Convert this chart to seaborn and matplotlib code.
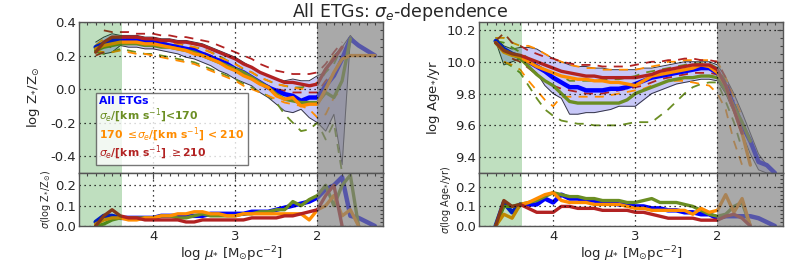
import numpy as np
import matplotlib
matplotlib.use("Agg")
import matplotlib.pyplot as plt
import seaborn as sns
from matplotlib.ticker import MultipleLocator

nan = np.nan

# radial grid in log mu_* [Msun pc^-2]
lmu = [4.7, 4.6, 4.5, 4.4, 4.3, 4.2, 4.1, 4.0, 3.9, 3.8, 3.7, 3.6, 3.5, 3.4, 3.3, 3.2, 3.1, 3.0,
       2.9, 2.8, 2.7, 2.6, 2.5, 2.4, 2.3, 2.2, 2.1, 2.0, 1.9, 1.8, 1.7, 1.6, 1.5, 1.4, 1.3]

# ---- metallicity profiles ----
z_all = [0.25, 0.27, 0.29, 0.29, 0.29, 0.29, 0.28, 0.28, 0.27, 0.26, 0.25, 0.24, 0.23, 0.21, 0.19, 0.17, 0.15, 0.12,
         0.10, 0.07, 0.04, 0.01, -0.01, -0.03, -0.04, -0.07, -0.05, -0.05, 0.02, 0.08, 0.18, 0.30, 0.26, 0.23, 0.20]
z_all_hi = [0.28, 0.31, 0.33, 0.32, 0.32, 0.32, 0.31, 0.31, 0.30, 0.30, 0.29, 0.29, 0.28, 0.27, 0.25, 0.23, 0.21, 0.19,
            0.16, 0.13, 0.10, 0.08, 0.06, 0.05, 0.06, 0.05, 0.05, 0.08, 0.10, 0.20, 0.25, 0.32, 0.26, 0.23, 0.20]
z_all_lo = [0.23, 0.21, 0.22, 0.26, 0.25, 0.25, 0.24, 0.24, 0.23, 0.22, 0.21, 0.19, 0.18, 0.16, 0.14, 0.11, 0.09, 0.06,
            0.04, 0.02, -0.02, -0.05, -0.09, -0.13, -0.14, -0.12, -0.17, -0.20, -0.25, -0.15, -0.45, 0.30, 0.26, 0.23, 0.20]
z_s1 = [0.23, 0.25, 0.26, 0.27, 0.27, 0.27, 0.26, 0.26, 0.25, 0.25, 0.24, 0.23, 0.22, 0.20, 0.18, 0.16, 0.14, 0.12,
        0.10, 0.07, 0.04, 0.01, -0.03, -0.06, -0.07, -0.08, -0.08, -0.08, -0.02, -0.05, 0.05, 0.30, nan, nan, nan]
z_s2 = [0.24, 0.26, 0.27, 0.28, 0.28, 0.28, 0.27, 0.27, 0.26, 0.25, 0.24, 0.23, 0.21, 0.20, 0.18, 0.16, 0.13, 0.11,
        0.08, 0.06, 0.03, 0.01, -0.04, -0.06, -0.05, -0.10, -0.09, -0.09, 0.00, 0.10, 0.18, 0.20, 0.20, 0.20, 0.20]
z_s3 = [0.22, 0.28, 0.31, 0.31, 0.31, 0.31, 0.30, 0.30, 0.29, 0.29, 0.28, 0.28, 0.27, 0.26, 0.24, 0.22, 0.20, 0.18,
        0.15, 0.13, 0.10, 0.08, 0.06, 0.04, 0.04, 0.03, 0.02, 0.03, 0.12, 0.18, 0.25, nan, nan, nan, nan]
z_s1_up = [0.25, 0.28, 0.30, 0.30, 0.30, 0.29, 0.29, 0.28, 0.28, 0.27, 0.27, 0.26, 0.25, 0.24, 0.22, 0.20, 0.17, 0.15,
           0.12, 0.10, 0.07, 0.05, 0.03, 0.02, 0.01, 0.01, 0.02, 0.03, 0.10, 0.15, 0.25, nan, nan, nan, nan]
z_s1_dn = [0.22, 0.21, 0.22, 0.24, 0.23, 0.22, 0.21, 0.21, 0.20, 0.19, 0.18, 0.17, 0.16, 0.14, 0.12, 0.10, 0.08, 0.06,
           0.03, 0.01, -0.02, -0.04, -0.08, -0.15, -0.20, -0.25, -0.24, -0.20, -0.30, -0.20, -0.50, nan, nan, nan, nan]
z_s2_up = [0.26, 0.30, 0.31, 0.31, 0.31, 0.30, 0.30, 0.29, 0.29, 0.28, 0.27, 0.26, 0.25, 0.24, 0.22, 0.19, 0.17, 0.15,
           0.12, 0.10, 0.07, 0.05, 0.03, 0.02, 0.01, 0.00, 0.01, 0.04, 0.12, 0.20, 0.22, nan, nan, nan, nan]
z_s2_dn = [0.23, 0.22, 0.22, 0.23, 0.22, 0.21, 0.21, 0.20, 0.19, 0.18, 0.17, 0.16, 0.15, 0.13, 0.11, 0.09, 0.07, 0.05,
           0.02, 0.00, -0.02, -0.04, -0.06, -0.08, -0.09, -0.10, -0.12, -0.17, -0.15, -0.05, 0.00, nan, nan, nan, nan]
z_s3_up = [nan, 0.35, 0.34, 0.34, 0.34, 0.33, 0.33, 0.33, 0.32, 0.32, 0.31, 0.31, 0.30, 0.29, 0.28, 0.26, 0.24, 0.22,
           0.20, 0.18, 0.15, 0.13, 0.11, 0.10, 0.09, 0.09, 0.09, 0.10, 0.15, 0.22, 0.28, nan, nan, nan, nan]
z_s3_dn = [0.20, 0.22, 0.26, 0.28, 0.28, 0.28, 0.28, 0.27, 0.27, 0.26, 0.25, 0.25, 0.24, 0.22, 0.20, 0.18, 0.15, 0.12,
           0.09, 0.07, 0.04, 0.02, 0.00, -0.01, -0.02, -0.02, -0.02, -0.02, 0.05, 0.10, 0.15, nan, nan, nan, nan]

# ---- age profiles ----
a_all = [10.13, 10.08, 10.05, 10.03, 10.00, 9.97, 9.94, 9.90, 9.87, 9.84, 9.84, 9.82, 9.82, 9.82, 9.83, 9.83, 9.84, 9.86,
         9.88, 9.90, 9.91, 9.92, 9.93, 9.94, 9.95, 9.96, 9.96, 9.93, 9.85, 9.72, 9.60, 9.50, 9.37, 9.35, 9.30]
a_all_hi = [10.15, 10.10, 10.08, 10.09, 10.09, 10.08, 10.05, 10.02, 10.00, 9.98, 9.97, 9.97, 9.96, 9.96, 9.95, 9.95, 9.95, 9.95,
            9.96, 9.96, 9.97, 9.98, 9.99, 10.00, 10.00, 10.00, 10.00, 9.98, 9.90, 9.80, 9.68, 9.55, 9.42, 9.35, 9.30]
a_all_lo = [10.13, 9.98, 10.00, 10.02, 9.97, 9.93, 9.85, 9.80, 9.77, 9.67, 9.67, 9.68, 9.68, 9.69, 9.70, 9.72, 9.72, 9.72,
            9.76, 9.80, 9.82, 9.84, 9.86, 9.87, 9.88, 9.89, 9.89, 9.88, 9.80, 9.68, 9.55, 9.42, 9.32, 9.30, 9.30]
a_s1 = [10.12, 10.07, 10.05, 10.02, 9.97, 9.92, 9.88, 9.85, 9.80, 9.75, 9.74, 9.74, 9.74, 9.74, 9.74, 9.74, 9.76, 9.80,
        9.82, 9.84, 9.86, 9.88, 9.89, 9.90, 9.90, 9.91, 9.91, 9.90, 9.82, 9.72, 9.62, 9.50, nan, nan, nan]
a_s2 = [10.12, 10.06, 10.04, 10.03, 10.00, 9.97, 9.95, 9.93, 9.91, 9.90, 9.89, 9.89, 9.88, 9.88, 9.87, 9.87, 9.86, 9.85,
        9.88, 9.91, 9.92, 9.93, 9.94, 9.95, 9.96, 9.98, 9.97, 9.93, 9.85, 9.70, 9.55, 9.35, nan, nan, nan]
a_s3 = [10.12, 10.07, 10.05, 10.04, 10.02, 10.00, 9.98, 9.96, 9.94, 9.93, 9.92, 9.91, 9.91, 9.90, 9.90, 9.90, 9.90, 9.90,
        9.91, 9.92, 9.94, 9.95, 9.96, 9.97, 9.98, 9.98, 9.98, 9.95, 9.85, 9.70, 9.55, nan, nan, nan, nan]
a_s1_up = [10.13, 10.12, 10.09, 10.06, 10.02, 9.98, 9.95, 9.93, 9.91, 9.88, 9.88, 9.88, 9.88, 9.89, 9.89, 9.89, 9.90, 9.91,
           9.93, 9.94, 9.95, 9.96, 9.97, 9.98, 9.99, 9.99, 9.99, 9.96, 9.88, 9.75, 9.62, nan, nan, nan, nan]
a_s1_dn = [nan, 10.00, 9.97, 9.93, 9.85, 9.77, 9.70, 9.66, 9.63, 9.62, 9.61, 9.61, 9.60, 9.60, 9.60, 9.60, 9.61, 9.62,
           9.62, 9.62, 9.66, 9.70, 9.75, 9.80, 9.84, 9.86, 9.87, 9.87, 9.75, 9.62, 9.45, nan, nan, nan, nan]
a_s2_up = [10.15, 10.15, 10.12, 10.10, 10.10, 10.08, 10.05, 10.02, 10.00, 9.98, 9.97, 9.96, 9.96, 9.95, 9.95, 9.95, 9.95, 9.95,
           9.96, 9.97, 9.98, 10.00, 10.00, 10.01, 10.01, 10.01, 10.01, 10.00, 9.90, 9.78, 9.65, nan, nan, nan, nan]
a_s2_dn = [nan, 10.00, 9.98, 9.95, 9.88, 9.82, 9.76, 9.72, 9.78, 9.78, 9.78, 9.78, 9.78, 9.78, 9.79, 9.80, 9.81, 9.82,
           9.83, 9.85, 9.86, 9.88, 9.88, 9.88, 9.87, 9.86, 9.85, 9.80, 9.70, 9.50, 9.35, nan, nan, nan, nan]
a_s3_up = [10.13, 10.18, 10.12, 10.10, 10.07, 10.05, 10.03, 10.02, 10.00, 9.99, 9.98, 9.98, 9.98, 9.97, 9.97, 9.97, 9.97, 9.98,
           9.99, 10.00, 10.00, 10.01, 10.01, 10.02, 10.02, 10.01, 10.01, 10.00, 9.90, 9.75, nan, nan, nan, nan, nan]
a_s3_dn = [nan, nan, 10.02, 10.00, 9.96, 9.92, 9.88, 9.85, 9.83, 9.82, 9.81, 9.80, 9.80, 9.80, 9.81, 9.82, 9.83, 9.84,
           9.85, 9.87, 9.89, 9.90, 9.91, 9.92, 9.93, 9.93, 9.93, 9.92, 9.82, 9.68, nan, nan, nan, nan, nan]

# ---- scatter (bottom panels) ----
sz_all = [0.02, 0.05, 0.05, 0.04, 0.04, 0.04, 0.04, 0.04, 0.05, 0.05, 0.05, 0.05, 0.05, 0.05, 0.06, 0.06, 0.06, 0.06,
          0.06, 0.07, 0.07, 0.07, 0.08, 0.09, 0.10, 0.11, 0.12, 0.14, 0.18, 0.20, 0.24, 0.05, 0.04, 0.02, 0.00]
sz_s1 = [0.00, 0.01, 0.03, 0.04, 0.04, 0.04, 0.04, 0.04, 0.05, 0.05, 0.04, 0.04, 0.05, 0.06, 0.05, 0.05, 0.05, 0.05,
         0.06, 0.06, 0.07, 0.07, 0.08, 0.08, 0.12, 0.10, 0.13, 0.15, 0.20, 0.10, 0.20, 0.25, 0.00, nan, nan]
sz_s2 = [0.01, 0.03, 0.04, 0.04, 0.03, 0.03, 0.04, 0.04, 0.05, 0.05, 0.06, 0.06, 0.07, 0.07, 0.06, 0.06, 0.05, 0.05,
         0.06, 0.06, 0.06, 0.06, 0.06, 0.06, 0.06, 0.06, 0.03, 0.08, 0.10, 0.15, 0.05, 0.08, 0.00, nan, nan]
sz_s3 = [0.00, 0.05, 0.08, 0.05, 0.04, 0.04, 0.03, 0.03, 0.03, 0.03, 0.03, 0.02, 0.02, 0.03, 0.03, 0.03, 0.03, 0.03,
         0.03, 0.04, 0.04, 0.04, 0.04, 0.05, 0.05, 0.06, 0.07, 0.08, 0.15, 0.20, 0.00, nan, nan, nan, nan]
sa_all = [0.00, 0.12, 0.07, 0.11, 0.11, 0.11, 0.14, 0.12, 0.16, 0.14, 0.14, 0.13, 0.13, 0.12, 0.12, 0.11, 0.11, 0.10,
          0.10, 0.09, 0.09, 0.08, 0.08, 0.07, 0.07, 0.06, 0.06, 0.04, 0.05, 0.05, 0.05, 0.05, 0.04, 0.02, 0.00]
sa_s1 = [0.00, 0.10, 0.10, 0.11, 0.12, 0.13, 0.15, 0.17, 0.16, 0.15, 0.15, 0.14, 0.14, 0.13, 0.13, 0.13, 0.12, 0.12,
         0.13, 0.14, 0.12, 0.12, 0.12, 0.11, 0.10, 0.08, 0.06, 0.05, 0.06, 0.10, 0.12, 0.00, nan, nan, nan]
sa_s2 = [0.00, 0.06, 0.04, 0.11, 0.12, 0.14, 0.16, 0.17, 0.13, 0.12, 0.12, 0.12, 0.11, 0.11, 0.11, 0.11, 0.10, 0.09,
         0.09, 0.08, 0.08, 0.08, 0.08, 0.08, 0.06, 0.09, 0.07, 0.08, 0.16, 0.07, 0.14, 0.00, nan, nan, nan]
sa_s3 = [0.00, 0.13, 0.10, 0.11, 0.09, 0.07, 0.07, 0.07, 0.10, 0.10, 0.09, 0.09, 0.09, 0.08, 0.08, 0.08, 0.08, 0.07,
         0.07, 0.06, 0.05, 0.04, 0.04, 0.04, 0.04, 0.03, 0.03, 0.03, 0.05, 0.06, 0.04, 0.00, nan, nan, nan]

labels = ["All ETGs", r"$\sigma_e$/[km s$^{-1}$]<170",
          r"170 $\leq\!\sigma_e$/[km s$^{-1}$] < 210", r"$\sigma_e$/[km s$^{-1}$] $\geq$210"]
colors = ["#0000ff", "#6b8e23", "#ff8c00", "#b22222"]

sns.set_style("white")
plt.rcParams["font.family"] = ["DejaVu Sans"]

fig = plt.figure(figsize=(8, 2.65), dpi=100)
x = np.array(lmu)


def style_axis(ax, ymin, ymax, ymaj, ymin_step):
    ax.set_xlim(4.9, 1.2)
    ax.set_ylim(ymin, ymax)
    ax.xaxis.set_major_locator(MultipleLocator(1))
    ax.xaxis.set_minor_locator(MultipleLocator(0.1))
    ax.yaxis.set_major_locator(MultipleLocator(ymaj))
    ax.yaxis.set_minor_locator(MultipleLocator(ymin_step))
    ax.tick_params(which="both", direction="in", top=True, right=True, color="#444444",
                   labelsize=9.5, width=0.8, pad=2.5)
    ax.tick_params(which="major", length=4)
    ax.tick_params(which="minor", length=2.5)
    ax.grid(True, which="major", ls=(0, (1, 3)), color="k", lw=0.9)
    ax.xaxis.set_zorder(10)
    ax.yaxis.set_zorder(10)
    for s in ax.spines.values():
        s.set_color("#555555")
        s.set_linewidth(1.0)
        s.set_zorder(11)
    ax.axvspan(4.9, 4.38, color="green", alpha=0.25, lw=0, zorder=8)
    ax.axvspan(2.0, 1.2, color="#808080", alpha=0.68, lw=0, zorder=8)


def draw_top(ax, mean, lo, hi, groups, ups, dns):
    ax.fill_between(x, lo, hi, color="#c8c8f8", lw=0, zorder=1)
    sns.lineplot(x=x, y=hi, ax=ax, color="#333344", lw=0.7, sort=False, zorder=2)
    sns.lineplot(x=x, y=lo, ax=ax, color="#333344", lw=0.7, sort=False, zorder=2)
    for g, u, d, c in zip(groups, ups, dns, colors[1:]):
        sns.lineplot(x=x, y=u, ax=ax, color=c, lw=1.3, ls=(0, (5, 4)), sort=False, zorder=3)
        sns.lineplot(x=x, y=d, ax=ax, color=c, lw=1.3, ls=(0, (5, 4)), sort=False, zorder=3)
    sns.lineplot(x=x, y=mean, ax=ax, color=colors[0], lw=3.2, sort=False, zorder=4, label=labels[0])
    for g, c, lab in zip(groups, colors[1:], labels[1:]):
        sns.lineplot(x=x, y=g, ax=ax, color=c, lw=2.4, sort=False, zorder=5, label=lab)


def draw_bottom(ax, series):
    for s, c, w in zip(series, colors, [3.2, 2.4, 2.4, 2.4]):
        sns.lineplot(x=x, y=s, ax=ax, color=c, lw=w, sort=False, zorder=4)


xlab = r"log $\mu_{*}$ [M$_{\odot}$pc$^{-2}$]"

# left column: metallicity
axz = fig.add_axes([0.099, 0.347, 0.38, 0.57])
axzs = fig.add_axes([0.099, 0.147, 0.38, 0.20])
draw_top(axz, z_all, z_all_lo, z_all_hi, [z_s1, z_s2, z_s3], [z_s1_up, z_s2_up, z_s3_up], [z_s1_dn, z_s2_dn, z_s3_dn])
style_axis(axz, -0.5, 0.4, 0.2, 0.05)
axz.set_yticks([-0.4, -0.2, 0.0, 0.2, 0.4])
axz.set_yticklabels(["-0.4", "-0.2", "0.0", "0.2", "0.4"])
axz.set_xticklabels([])
axz.set_ylabel(r"log Z$_{*}$/Z$_{\odot}$", fontsize=9.5, labelpad=6)
leg = axz.legend(loc="lower left", bbox_to_anchor=(0.055, 0.05), handlelength=0, handletextpad=0,
                 fancybox=False, frameon=True, borderpad=0.3, labelspacing=0.05, borderaxespad=0,
                 prop={"weight": "bold", "size": 7.8})
leg.get_frame().set_edgecolor("#555555")
leg.get_frame().set_linewidth(1.0)
leg.set_zorder(20)
for h in leg.legend_handles:
    h.set_visible(False)
for t, c in zip(leg.get_texts(), colors):
    t.set_color(c)

draw_bottom(axzs, [sz_all, sz_s1, sz_s2, sz_s3])
style_axis(axzs, 0.0, 0.26, 0.1, 0.02)
axzs.set_yticks([0.0, 0.1, 0.2])
axzs.set_ylabel(r"$\sigma$(log Z$_{*}$/Z$_{\odot}$)", fontsize=7, labelpad=1)
axzs.set_xlabel(xlab, fontsize=9.5, labelpad=1)
axzs.set_xticks([4, 3, 2])

# right column: age
axa = fig.add_axes([0.599, 0.347, 0.38, 0.57])
axas = fig.add_axes([0.599, 0.147, 0.38, 0.20])
draw_top(axa, a_all, a_all_lo, a_all_hi, [a_s1, a_s2, a_s3], [a_s1_up, a_s2_up, a_s3_up], [a_s1_dn, a_s2_dn, a_s3_dn])
style_axis(axa, 9.3, 10.25, 0.2, 0.05)
axa.set_yticks([9.4, 9.6, 9.8, 10.0, 10.2])
axa.set_xticklabels([])
axa.set_ylabel(r"log Age$_{*}$/yr", fontsize=9.5, labelpad=3)
axa.get_legend().remove()

draw_bottom(axas, [sa_all, sa_s1, sa_s2, sa_s3])
style_axis(axas, 0.0, 0.27, 0.1, 0.02)
axas.set_yticks([0.0, 0.1, 0.2])
axas.set_ylabel(r"$\sigma$(log Age$_{*}$/yr)", fontsize=7, labelpad=1)
axas.set_xlabel(xlab, fontsize=9.5, labelpad=1)
axas.set_xticks([4, 3, 2])

fig.suptitle(r"All ETGs: $\sigma_{e}$-dependence", fontsize=12.5, y=0.995)

fig.savefig("out.png", dpi=100)
